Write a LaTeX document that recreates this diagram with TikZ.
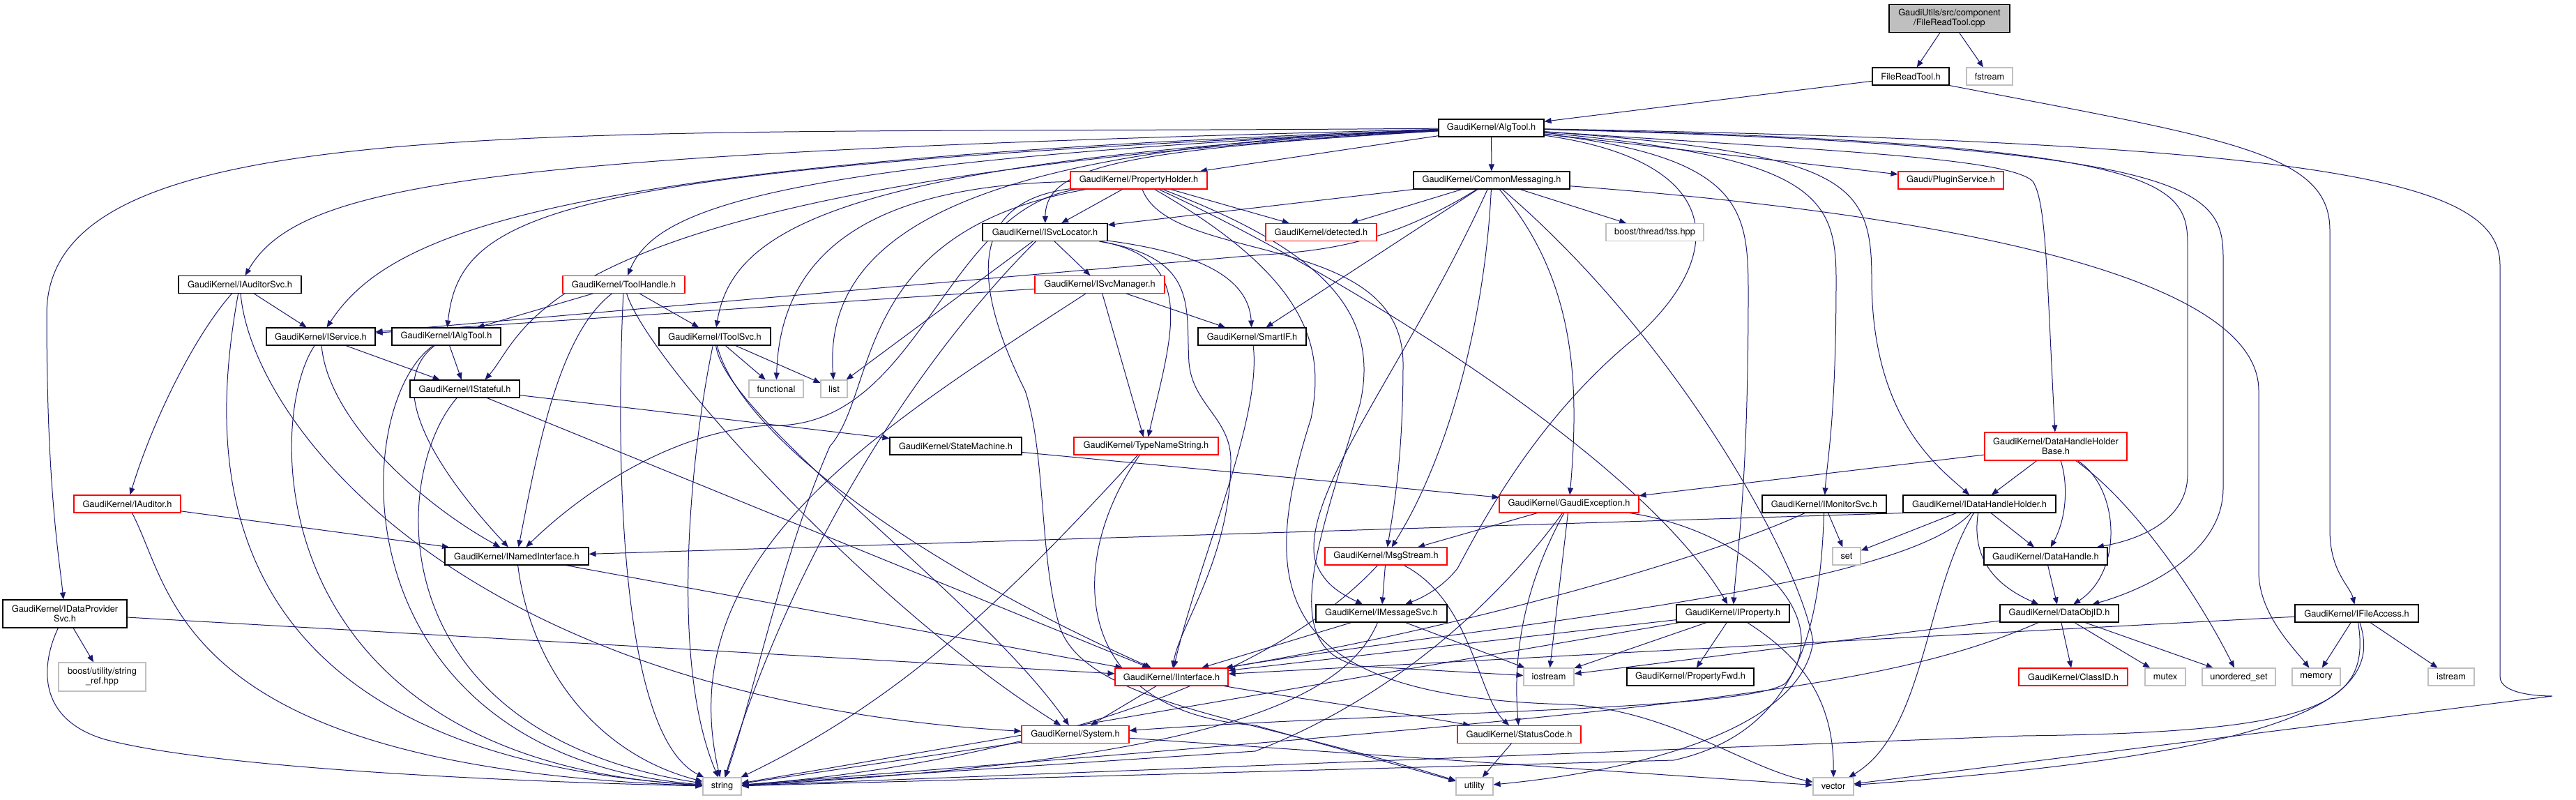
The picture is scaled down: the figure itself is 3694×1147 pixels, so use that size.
\documentclass[tikz,border=0pt]{standalone}
\usepackage{fontspec}
\setmainfont{TeX Gyre Heros}
\usetikzlibrary{arrows.meta}
\pgfdeclarelayer{bg}
\pgfsetlayers{bg,main}
\definecolor{edgec}{HTML}{191970}
\definecolor{greyb}{HTML}{BFBFBF}
\begin{document}
\begin{tikzpicture}[x=1pt,y=-1pt,
  nb/.style={draw=black,fill=white,line width=1.1pt,inner sep=0pt,minimum height=25pt,font=\fontsize{12.8}{14}\selectfont},
  nr/.style={nb,draw=red},
  ng/.style={nb,draw=greyb},
  conn/.style={draw=edgec,line width=1pt,-{Triangle[length=10pt,width=8pt]}}]
\useasboundingbox (0,0) rectangle (3694,1147);
% ---------- nodes ----------
\node[nb,minimum width=173pt,minimum height=40pt,fill=greyb,align=center] (root) at (2795.5,26.6) {GaudiUtils/src/component\\/FileReadTool.cpp};
\node[nb,minimum width=110pt] (frth) at (2740,109.5) {FileReadTool.h};
\node[ng,minimum width=66pt] (fstream) at (2853,109.5) {fstream};
\node[nb,minimum width=151pt] (algtool) at (2138.5,183.5) {GaudiKernel/AlgTool.h};
\node[nb,minimum width=224pt] (cmsg) at (2139,258.5) {GaudiKernel/CommonMessaging.h};
\node[nr,minimum width=151pt] (plugin) at (2797.5,258.5) {Gaudi/PluginService.h};
\node[nr,minimum width=196pt] (propholder) at (1633,258.5) {GaudiKernel/PropertyHolder.h};
\node[nr,minimum width=159pt] (detected) at (1894.5,333) {GaudiKernel/detected.h};
\node[ng,minimum width=140pt] (tss) at (2373,333) {boost/thread/tss.hpp};
\node[nb,minimum width=179pt] (svcloc) at (1498.5,333) {GaudiKernel/ISvcLocator.h};
\node[nb,minimum width=176pt] (auditorsvc) at (344,408) {GaudiKernel/IAuditorSvc.h};
\node[nr,minimum width=175pt] (toolhandle) at (894.5,408) {GaudiKernel/ToolHandle.h};
\node[nr,minimum width=186pt] (svcmgr) at (1577,408) {GaudiKernel/ISvcManager.h};
\node[nb,minimum width=156pt] (iservice) at (460,482.5) {GaudiKernel/IService.h};
\node[nb,minimum width=156pt] (ialgtool) at (640,482.5) {GaudiKernel/IAlgTool.h};
\node[nb,minimum width=160pt] (itoolsvc) at (1025,482.5) {GaudiKernel/IToolSvc.h};
\node[nb,minimum width=155pt] (smartif) at (1795.5,482.5) {GaudiKernel/SmartIF.h};
\node[nb,minimum width=157pt] (istateful) at (666.5,557.5) {GaudiKernel/IStateful.h};
\node[ng,minimum width=78pt] (functional) at (1113,557.5) {functional};
\node[ng,minimum width=38pt] (list) at (1196,557.5) {list};
\node[nb,minimum width=189pt] (statemachine) at (1370.5,639.5) {GaudiKernel/StateMachine.h};
\node[nr,minimum width=207pt] (typename) at (1643.5,639.5) {GaudiKernel/TypeNameString.h};
\node[nr,minimum width=204pt,minimum height=40pt,align=center] (dhhb) at (2948,640) {GaudiKernel/DataHandleHolder\\Base.h};
\node[nr,minimum width=153pt] (iauditor) at (182.5,722.5) {GaudiKernel/IAuditor.h};
\node[nr,minimum width=200pt] (gexc) at (2250,722.5) {GaudiKernel/GaudiException.h};
\node[nb,minimum width=178pt] (imonitor) at (2616,722.5) {GaudiKernel/IMonitorSvc.h};
\node[nb,minimum width=219pt] (idhh) at (2838.5,722.5) {GaudiKernel/IDataHandleHolder.h};
\node[nb,minimum width=206pt] (inamed) at (741,797.5) {GaudiKernel/INamedInterface.h};
\node[nr,minimum width=175pt] (msgstream) at (1987.5,797.5) {GaudiKernel/MsgStream.h};
\node[ng,minimum width=40pt] (set) at (2648,797.5) {set};
\node[nb,minimum width=177pt] (datahandle) at (2933.5,797.5) {GaudiKernel/DataHandle.h};
\node[nb,minimum width=178pt,minimum height=40pt,align=center] (idps) at (93,880) {GaudiKernel/IDataProvider\\Svc.h};
\node[nb,minimum width=188pt] (imsgsvc) at (1981,879.5) {GaudiKernel/IMessageSvc.h};
\node[nb,minimum width=162pt] (iproperty) at (2485,879.5) {GaudiKernel/IProperty.h};
\node[nb,minimum width=170pt] (dataobjid) at (2953,879.5) {GaudiKernel/DataObjID.h};
\node[nb,minimum width=177pt] (ifileaccess) at (3379.5,879.5) {GaudiKernel/IFileAccess.h};
\node[ng,minimum width=125pt,minimum height=41pt,align=center] (stringref) at (146.5,970.5) {boost/utility/string\\\_ref.hpp};
\node[nr,minimum width=162pt] (iinterface) at (1680,970.5) {GaudiKernel/IInterface.h};
\node[ng,minimum width=72pt] (iostream) at (2221,970.5) {iostream};
\node[nb,minimum width=182pt] (propfwd) at (2424,970.5) {GaudiKernel/PropertyFwd.h};
\node[nr,minimum width=156pt] (classid) at (2973,970.5) {GaudiKernel/ClassID.h};
\node[ng,minimum width=58pt] (mutex) at (3105,970.5) {mutex};
\node[ng,minimum width=105pt] (uset) at (3210.5,970.5) {unordered\_set};
\node[ng,minimum width=69pt] (memory) at (3321.5,970.5) {memory};
\node[ng,minimum width=66pt] (istream) at (3515,970.5) {istream};
\node[nr,minimum width=154pt] (system) at (1542,1053) {GaudiKernel/System.h};
\node[nr,minimum width=177pt] (statuscode) at (2178.5,1053) {GaudiKernel/StatusCode.h};
\node[ng,minimum width=55pt] (string) at (1035.5,1127.5) {string};
\node[ng,minimum width=53pt] (utility) at (2114.5,1127.5) {utility};
\node[ng,minimum width=58pt] (vector) at (2629,1127.5) {vector};
% ---------- connectors ----------
\begin{pgfonlayer}{bg}
\fill[white] (0,0) rectangle (3694,1147);
\draw[conn] (root) -- (frth);
\draw[conn] (root) -- (fstream);
\draw[conn] (frth) -- (algtool);
\draw[conn] (frth.south east) .. controls (3200,200) and (3341,220) .. (3341,330) -- (3341,760) .. controls (3341,820) and (3370,840) .. (ifileaccess);
% AlgTool
\draw[conn] (algtool) .. controls (800,195) and (67,150) .. (67,450) .. controls (67,700) and (85,800) .. (idps);
\draw[conn] (algtool) .. controls (700,220) and (430,260) .. (auditorsvc);
\draw[conn] (algtool) .. controls (800,230) and (560,330) .. (iservice);
\draw[conn] (algtool) .. controls (800,240) and (660,300) .. (ialgtool);
\draw[conn] (algtool) .. controls (770,260) and (760,470) .. ([xshift=-50pt]istateful.north east);
\draw[conn] (algtool) .. controls (1100,230) and (940,300) .. (toolhandle);
\draw[conn] (algtool) .. controls (1200,230) and (1050,330) .. (itoolsvc);
\draw[conn] (algtool) .. controls (1600,215) and (1500,240) .. (svcloc);
\draw[conn] (algtool) -- (propholder);
\draw[conn] (algtool) -- (cmsg);
\draw[conn] (algtool) -- (plugin);
\draw[conn] (algtool) .. controls (1400,210) and (1180,330) .. (list);
\draw[conn] (algtool) .. controls (2470,230) and (2480,360) .. (2350,480) .. controls (2200,600) and (2120,760) .. (2090,815) .. controls (2070,840) and (2045,855) .. (imsgsvc);
\draw[conn] (algtool) .. controls (2500,225) and (2507,300) .. (2507,420) .. controls (2507,700) and (2490,800) .. (iproperty);
\draw[conn] (algtool) .. controls (2600,225) and (2633,280) .. (2633,400) .. controls (2633,600) and (2620,660) .. (imonitor);
\draw[conn] (algtool) .. controls (2650,220) and (2684,260) .. (2684,400) .. controls (2684,600) and (2780,670) .. (idhh);
\draw[conn] (algtool) .. controls (2600,215) and (2880,225) .. (2915,260) .. controls (2935,290) and (2935,400) .. (dhhb);
\draw[conn] (algtool) .. controls (3100,205) and (3137,260) .. (3137,350) -- (3137,680) .. controls (3137,750) and (3060,775) .. (datahandle);
\draw[conn] (algtool) .. controls (3150,210) and (3188,270) .. (3188,370) -- (3188,700) .. controls (3188,800) and (3060,850) .. (dataobjid);
\draw[conn] (algtool) .. controls (3350,205) and (3585,260) .. (3585,380) -- (3585,970) .. controls (3585,995) and (3640,998) .. (3660,998) -- (vector);
% CommonMessaging
\draw[conn] (cmsg) .. controls (2700,300) and (3239,380) .. (3239,560) -- (3239,820) .. controls (3239,880) and (3290,930) .. (memory);
\draw[conn] (cmsg) -- (svcloc);
\draw[conn] (cmsg) -- (detected);
\draw[conn] (cmsg) -- (tss);
\draw[conn] (cmsg) .. controls (1990,350) and (1900,360) .. (1800,366) -- (iservice);
\draw[conn] (cmsg) -- (smartif);
\draw[conn] (cmsg) .. controls (2130,450) and (2080,650) .. (msgstream);
\draw[conn] (cmsg) .. controls (2020,520) and (1870,700) .. (1885,800) .. controls (1895,835) and (1920,850) .. (imsgsvc);
\draw[conn] (cmsg) .. controls (2260,400) and (2265,550) .. (gexc);
\draw[conn] (cmsg) .. controls (2400,480) and (2580,800) .. (2600,920) .. controls (2580,1060) and (2300,1110) .. (utility);
% PropertyHolder
\draw[conn] (propholder) -- (svcloc);
\draw[conn] (propholder) -- (detected);
\draw[conn] (propholder) .. controls (1300,265) and (1120,330) .. (functional);
\draw[conn] (propholder) .. controls (1350,300) and (1320,620) .. (1100,610) .. controls (950,620) and (820,720) .. (inamed);
\draw[conn] (propholder) .. controls (1220,330) and (1260,560) .. (1190,640) .. controls (1120,800) and (1080,1000) .. (string);
\draw[conn] (propholder) .. controls (1380,290) and (1400,420) .. (1470,560) .. controls (1500,650) and (1490,800) .. (1520,900) .. controls (1560,1010) and (1800,1030) .. (utility);
\draw[conn] (propholder) .. controls (1680,380) and (2010,330) .. (2012,520) .. controls (2012,650) and (2000,720) .. (msgstream);
\draw[conn] (propholder) .. controls (1900,380) and (2350,650) .. (iproperty);
\draw[conn] (propholder) .. controls (1900,360) and (1980,450) .. (1950,580) .. controls (1890,780) and (1830,930) .. (1950,955) -- (iostream);
\draw[conn] (propholder) .. controls (1880,400) and (1900,500) .. (1880,600) .. controls (1800,850) and (1830,1000) .. (2250,1010) .. controls (2400,1020) and (2500,1100) .. (vector);
% ISvcLocator
\draw[conn] (svcloc) -- (svcmgr);
\draw[conn] (svcloc) .. controls (1700,360) and (1790,390) .. (smartif);
\draw[conn] (svcloc) .. controls (1720,370) and (1680,480) .. (typename);
\draw[conn] (svcloc) -- (list);
\draw[conn] (svcloc) .. controls (1720,370) and (1700,440) .. (1705,520) .. controls (1710,580) and (1765,600) .. (1765,660) .. controls (1765,800) and (1690,900) .. (iinterface);
\draw[conn] (svcloc) .. controls (1350,480) and (1150,750) .. (string);
% ISvcManager
\draw[conn] (svcmgr) -- (iservice);
\draw[conn] (svcmgr) -- (smartif);
\draw[conn] (svcmgr) -- (typename);
\draw[conn] (svcmgr) .. controls (1250,620) and (960,800) .. (string);
% IAuditorSvc
\draw[conn] (auditorsvc) -- (iservice);
\draw[conn] (auditorsvc) .. controls (280,480) and (220,600) .. (iauditor);
\draw[conn] (auditorsvc) .. controls (300,650) and (280,1080) .. (string);
\draw[conn] (auditorsvc) .. controls (360,600) and (650,1000) .. (system);
% IService
\draw[conn] (iservice) -- (istateful);
\draw[conn] (iservice) .. controls (470,600) and (600,720) .. (inamed);
\draw[conn] (iservice) .. controls (380,600) and (370,1090) .. (string);
% IAlgTool
\draw[conn] (ialgtool) -- (istateful);
\draw[conn] (ialgtool) .. controls (540,560) and (650,700) .. (inamed);
\draw[conn] (ialgtool) .. controls (500,580) and (480,1080) .. (string);
% ToolHandle
\draw[conn] (toolhandle) -- (ialgtool);
\draw[conn] (toolhandle) -- (itoolsvc);
\draw[conn] (toolhandle) .. controls (800,480) and (770,650) .. (inamed);
\draw[conn] (toolhandle) .. controls (885,600) and (880,1050) .. (string);
\draw[conn] (toolhandle) .. controls (930,520) and (1250,870) .. (system);
% IToolSvc
\draw[conn] (itoolsvc) -- (functional);
\draw[conn] (itoolsvc) -- (list);
\draw[conn] (itoolsvc) .. controls (990,650) and (960,950) .. (string);
\draw[conn] (itoolsvc) .. controls (1040,600) and (1400,850) .. (system);
\draw[conn] (itoolsvc) .. controls (1060,620) and (1300,800) .. (iinterface);
% IStateful
\draw[conn] (istateful) -- (statemachine);
\draw[conn] (istateful) -- (iinterface);
\draw[conn] (istateful) .. controls (560,680) and (540,1050) .. (string);
% SmartIF, StateMachine, TypeNameString
\draw[conn] (smartif) .. controls (1810,600) and (1720,800) .. (iinterface);
\draw[conn] (statemachine) -- (gexc);
\draw[conn] (typename) .. controls (1450,850) and (1300,1000) .. (string);
\draw[conn] (typename) .. controls (1530,800) and (1530,1020) .. (1800,1040) -- (utility);
% DataHandleHolderBase
\draw[conn] (dhhb) -- (gexc);
\draw[conn] (dhhb) -- (idhh);
\draw[conn] (dhhb) .. controls (2965,690) and (2965,740) .. (datahandle);
\draw[conn] (dhhb) .. controls (3040,700) and (3045,820) .. (dataobjid);
\draw[conn] (dhhb) .. controls (3060,720) and (3150,850) .. (uset);
% IAuditor
\draw[conn] (iauditor) -- (inamed);
\draw[conn] (iauditor) .. controls (250,850) and (250,1100) .. (string);
% GaudiException
\draw[conn] (gexc) -- (msgstream);
\draw[conn] (gexc) .. controls (2180,850) and (2170,950) .. (statuscode);
\draw[conn] (gexc) -- (iostream);
\draw[conn] (gexc) .. controls (2150,860) and (2000,1000) .. (1800,1077) -- (string);
\draw[conn] (gexc) .. controls (2500,760) and (2640,880) .. (2560,980) .. controls (2500,1020) and (2000,1020) .. (system);
% MsgStream, IMessageSvc
\draw[conn] (msgstream) -- (imsgsvc);
\draw[conn] (msgstream) .. controls (1800,1000) and (1400,1100) .. (string);
\draw[conn] (msgstream) .. controls (2110,860) and (2120,1000) .. (statuscode);
\draw[conn] (imsgsvc) -- (iinterface);
\draw[conn] (imsgsvc) -- (iostream);
\draw[conn] (imsgsvc) .. controls (1930,1000) and (1750,1090) .. (string);
% IInterface, System, StatusCode
\draw[conn] (iinterface) -- (system);
\draw[conn] (iinterface) .. controls (1850,1000) and (2000,1020) .. (statuscode);
\draw[conn] (system) -- (string);
\draw[conn] (system) -- (vector);
\draw[conn] (statuscode) -- (utility);
% IMonitorSvc
\draw[conn] (imonitor) -- (set);
\draw[conn] (imonitor) .. controls (2450,800) and (2100,900) .. (iinterface);
\draw[conn] (imonitor) .. controls (2610,900) and (2580,1050) .. (2400,1090) -- (string);
% IDataHandleHolder
\draw[conn] (idhh.south west) -- (inamed);
\draw[conn] (idhh) -- (set);
\draw[conn] (idhh) -- (datahandle);
\draw[conn] (idhh) .. controls (2830,780) and (2840,830) .. (dataobjid);
\draw[conn] (idhh) .. controls (2760,850) and (2760,1050) .. (vector);
\draw[conn] (idhh) .. controls (2720,850) and (2100,900) .. (iinterface);
% DataHandle, DataObjID
\draw[conn] (datahandle) -- (dataobjid);
\draw[conn] (dataobjid) -- (classid);
\draw[conn] (dataobjid) -- (mutex);
\draw[conn] (dataobjid) -- (uset);
\draw[conn] (dataobjid) -- (iostream);
\draw[conn] (dataobjid) .. controls (2700,990) and (2400,1020) .. (string);
% IProperty
\draw[conn] (iproperty) -- (iinterface);
\draw[conn] (iproperty) -- (iostream);
\draw[conn] (iproperty) -- (string);
\draw[conn] (iproperty) -- (propfwd);
\draw[conn] (iproperty) .. controls (2580,940) and (2630,1000) .. (vector);
% IFileAccess
\draw[conn] (ifileaccess) -- (iinterface);
\draw[conn] (ifileaccess) -- (memory);
\draw[conn] (ifileaccess) -- (istream);
\draw[conn] (ifileaccess) .. controls (3420,1000) and (3300,1080) .. (vector);
\draw[conn] (ifileaccess) .. controls (3400,1010) and (3330,1050) .. (2900,1055) -- (string);
% IDataProviderSvc, INamedInterface
\draw[conn] (idps) -- (stringref);
\draw[conn] (idps) .. controls (60,950) and (50,1030) .. (150,1060) .. controls (300,1100) and (700,1120) .. (string);
\draw[conn] (idps) -- (iinterface);
\draw[conn] (inamed) -- (iinterface);
\draw[conn] (inamed) .. controls (760,950) and (850,1080) .. (string);
\end{pgfonlayer}
\end{tikzpicture}
\end{document}
